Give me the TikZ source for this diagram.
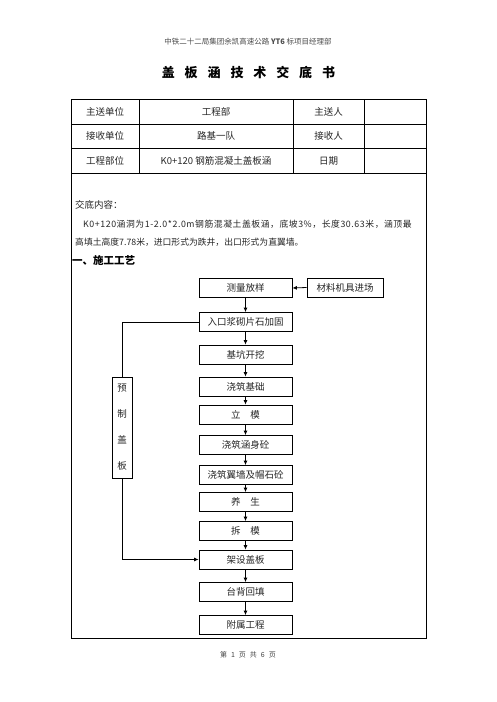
\documentclass[tikz,border=0pt]{standalone}
\usepackage{fontspec}
\setmainfont{Noto Sans CJK SC}
\newfontfamily\cjkls[LetterSpace=6.5]{Noto Sans CJK SC}
\usetikzlibrary{arrows.meta}
\tikzset{
  grid/.style={line width=0.8pt, draw=black},
  cell/.style={font=\fontsize{9.5}{11}\selectfont, text=black!85, inner sep=0pt},
  flowbox/.style={draw=black, line width=0.8pt, minimum width=93pt, minimum height=19pt, inner sep=0pt, font=\fontsize{9.5}{11}\selectfont, text=black!85},
  link/.style={line width=0.8pt, draw=black},
  arr/.style={link, -{Latex[length=4.5pt,width=4pt]}},
}
\begin{document}
\begin{tikzpicture}[x=1pt,y=-1pt]
\useasboundingbox (0,0) rectangle (496,702);
\fill[white] (0,0) rectangle (496,702);
% header
\node[font=\fontsize{7.5}{9}\selectfont, text=black!70, inner sep=0pt] (hdr) at (248,42) {中铁二十二局集团余凯高速公路 \textbf{YT6} 标项目经理部};
\node[font=\fontsize{13}{15}\bfseries\selectfont, inner sep=0pt] (title) at (248.5,73)
  {盖\hspace{9.9pt}板\hspace{9.9pt}涵\hspace{9.9pt}技\hspace{9.9pt}术\hspace{9.9pt}交\hspace{9.9pt}底\hspace{9.9pt}书};
% table
\draw[grid] (71,99) rectangle (426,638);
\draw[grid] (71,124) -- (426,124);
\draw[grid] (71,148) -- (426,148);
\draw[grid] (71,173) -- (426,173);
\draw[grid] (139,99) -- (139,173);
\draw[grid] (293,99) -- (293,173);
\draw[grid] (364,99) -- (364,173);
\node[cell] (c11) at (105,112) {主送单位};
\node[cell] (c12) at (216,112) {工程部};
\node[cell] (c13) at (328.5,112) {主送人};
\node[cell] (c21) at (105,136) {接收单位};
\node[cell] (c22) at (216,136) {路基一队};
\node[cell] (c23) at (328.5,136) {接收人};
\node[cell] (c31) at (105,160.5) {工程部位};
\node[cell] (c32) at (216,160.5) {K0+120 钢筋混凝土盖板涵};
\node[cell] (c33) at (328.5,160.5) {日期};
% content text
\node[cell, anchor=west] (jd) at (75,205) {交底内容：};
\node[anchor=west, inner sep=0pt, font=\fontsize{8.8}{10}\selectfont, text=black!85] (p1) at (83,224)
  {\cjkls K0+120涵洞为1-2.0*2.0m钢筋混凝土盖板涵，底坡3\%，长度30.63米，涵顶最};
\node[anchor=west, inner sep=0pt, font=\fontsize{8.8}{10}\selectfont, text=black!85] (p2) at (75,242)
  {高填土高度7.78米，进口形式为跌井，出口形式为直翼墙。};
\node[anchor=west, inner sep=0pt, font=\fontsize{10.5}{12}\bfseries\selectfont] (sec) at (72,260) {一、施工工艺};
% flowchart
\node[flowbox] (b1) at (245.5,288) {测量放样};
\node[flowbox] (b2) at (245.5,322) {入口浆砌片石加固};
\node[flowbox] (b3) at (245.5,354.5) {基坑开挖};
\node[flowbox] (b4) at (245.5,386.5) {浇筑基础};
\node[flowbox] (b5) at (245.5,414.5) {立\hspace{10pt}模};
\node[flowbox] (b6) at (245.5,445) {浇筑涵身砼};
\node[flowbox] (b7) at (245.5,475) {浇筑翼墙及帽石砼};
\node[flowbox] (b8) at (245.5,502) {养\hspace{10pt}生};
\node[flowbox] (b9) at (245.5,531) {拆\hspace{10pt}模};
\node[flowbox] (b10) at (245.5,559.5) {架设盖板};
\node[flowbox] (b11) at (245.5,592) {台背回填};
\node[flowbox] (b12) at (245.5,625) {附属工程};
\node[flowbox, minimum width=76pt] (m) at (345,287.5) {材料机具进场};
\node[draw=black, line width=0.8pt, minimum width=20pt, minimum height=101pt, inner sep=0pt, font=\fontsize{9.5}{26}\selectfont, text=black!85, align=center] (pre) at (122,427.5) {预\\制\\盖\\板};
\coordinate (t1) at (122,322);
\coordinate (t2) at (122,559.5);
\draw[arr] (m.west) -- (b1.east);
\draw[arr] (b1) -- (b2);
\draw[arr] (b2) -- (b3);
\draw[arr] (b3) -- (b4);
\draw[arr] (b4) -- (b5);
\draw[arr] (b5) -- (b6);
\draw[arr] (b6) -- (b7);
\draw[arr] (b7) -- (b8);
\draw[arr] (b8) -- (b9);
\draw[arr] (b9) -- (b10);
\draw[arr] (b10) -- (b11);
\draw[arr] (b11) -- (b12);
\draw[link] (b2.west) -- (t1) -- (pre.north);
\draw[arr] (pre.south) -- (t2) -- (b10.west);
% footer
\node[font=\fontsize{7}{8}\selectfont, text=black!75, inner sep=0pt] (ftr) at (248,655) {第\hspace{4pt}1\hspace{4pt}页\hspace{4pt}共\hspace{4pt}6\hspace{4pt}页};
\end{tikzpicture}
\end{document}
